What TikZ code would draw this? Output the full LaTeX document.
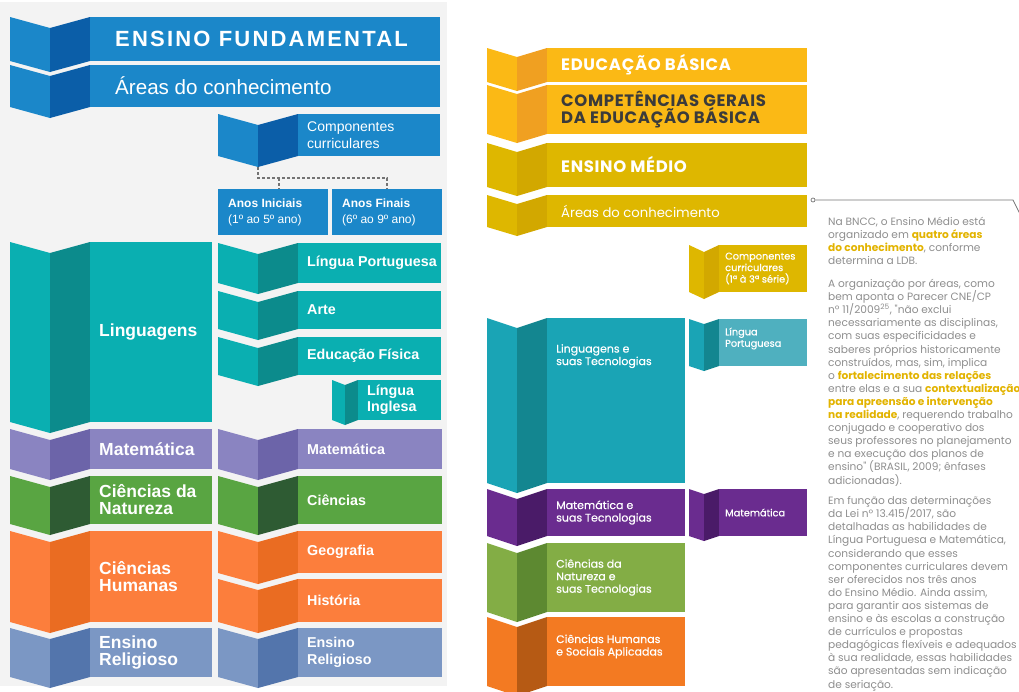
\documentclass[tikz,border=0pt]{standalone}
\usepackage{fontspec}
\setmainfont{Liberation Sans}
\newfontfamily\spacedfont[LetterSpace=10]{Liberation Sans}
\newfontfamily\gothfont{Poppins}
\newfontfamily\gothwide[LetterSpace=4]{Poppins}
\newfontfamily\gothmed[FakeBold=0.5]{Poppins}
\usetikzlibrary{calc, positioning}

% Ensino Fundamental families (main, dark fold, box)
\definecolor{fund}{HTML}{1B87C9}    \definecolor{fundDk}{HTML}{0B5EA8}
\definecolor{lang}{HTML}{0AAFB1}    \definecolor{langDk}{HTML}{0C8B8C}
\definecolor{math}{HTML}{8A84C1}    \definecolor{mathDk}{HTML}{6C64A9}
\definecolor{nat}{HTML}{59A542}     \definecolor{natDk}{HTML}{2E5B33}
\definecolor{hum}{HTML}{FC7E3C}     \definecolor{humDk}{HTML}{EA6C22}
\definecolor{rel}{HTML}{7B97C4}     \definecolor{relDk}{HTML}{5375AC}
% Ensino Medio families
\definecolor{gold}{HTML}{FBB915}    \definecolor{goldDk}{HTML}{F0A021}
\definecolor{mustard}{HTML}{DEB700} \definecolor{mustardDk}{HTML}{D2A800}
\definecolor{tealM}{HTML}{1AA4B5}   \definecolor{tealMDk}{HTML}{138690}
\definecolor{purpM}{HTML}{6A2C8F}   \definecolor{purpMDk}{HTML}{4A1B68}
\definecolor{greenM}{HTML}{83AD45}  \definecolor{greenMDk}{HTML}{5D8931}
\definecolor{orangeM}{HTML}{F37A22} \definecolor{orangeMDk}{HTML}{B65A14}
\colorlet{tealP}{tealM} \colorlet{tealPDk}{tealMDk}
\definecolor{tealPBox}{HTML}{4FB0BF}
\colorlet{fundBox}{fund} \colorlet{langBox}{lang} \colorlet{mathBox}{math}
\colorlet{natBox}{nat} \colorlet{humBox}{hum} \colorlet{relBox}{rel}
\colorlet{goldBox}{gold} \colorlet{mustardBox}{mustard}
\colorlet{tealMBox}{tealM} \colorlet{purpMBox}{purpM}
\colorlet{greenMBox}{greenM} \colorlet{orangeMBox}{orangeM}
\definecolor{panelGray}{HTML}{F3F3F3}
\definecolor{txtGray}{HTML}{8E8E8E}
\definecolor{hlGold}{HTML}{E2B300}
\definecolor{darkTxt}{HTML}{3B3B3B}

\tikzset{
  flat/.style={inner sep=0pt, outer sep=0pt, anchor=north west},
  lbl/.style={inner sep=0pt, anchor=west, align=left, text=white},
  leftcol/.style={lbl, font=\fontsize{17.5}{17}\selectfont\bfseries},
  rightcol/.style={lbl, font=\fontsize{14.3}{16.5}\selectfont\bfseries},
  medtitle/.style={lbl, font=\gothwide\bfseries\fontsize{16.5}{17}\selectfont},
  medarea/.style={lbl, font=\gothmed\fontsize{11}{12.5}\selectfont},
  medsmall/.style={lbl, font=\gothmed\fontsize{9.8}{11.5}\selectfont},
  dashline/.style={draw=black!55, line width=1.1pt, dash pattern=on 3pt off 2pt},
  callout/.style={draw=black!55, line width=0.7pt},
}

% folded banner: name, x0, x1, x2, top, bottom, fold depth, colour family
\newcommand{\foldbar}[8]{%
  \pgfmathsetmacro\fbMid{(#2+#3)/2}%
  \pgfmathsetmacro\fbW{#4-#3}%
  \pgfmathsetmacro\fbH{#6-#5}%
  \fill[#8] (#2,#5) -- (\fbMid,#5+#7) -- (\fbMid,#6+#7) -- (#2,#6) -- cycle;
  \fill[#8Dk] (\fbMid,#5+#7) -- (#3,#5) -- (#3,#6) -- (\fbMid,#6+#7) -- cycle;
  \node[flat, fill=#8Box, minimum width=\fbW, minimum height=\fbH] (#1) at (#3,#5) {};
}
\newcommand{\destaque}[1]{\textcolor{hlGold}{\bfseries #1}}

\begin{document}
\begin{tikzpicture}[x=1pt, y=-1pt]
  \useasboundingbox (0,0) rectangle (1019,691);
  \fill[panelGray] (0,2) rectangle (447,686);

  % ---- Ensino Fundamental ----
  \foldbar{fundTitle}{10}{90}{440}{17}{61}{11}{fund}
  \node[lbl, font=\spacedfont\bfseries\fontsize{22}{24}\selectfont]
    (fundTitleT) at ([xshift=25pt]fundTitle.west) {ENSINO FUNDAMENTAL};
  \foldbar{fundAreas}{10}{90}{440}{65}{107}{11}{fund}
  \node[lbl, font=\fontsize{20.6}{24}\selectfont]
    (fundAreasT) at ([xshift=25pt]fundAreas.west) {Áreas do conhecimento};
  \foldbar{fundComp}{218}{298}{440}{114}{156}{11}{fund}
  \node[lbl, font=\fontsize{14}{17}\selectfont]
    (fundCompT) at ([xshift=9pt]fundComp.west) {Componentes\\curriculares};

  \node[flat, fill=fund, minimum width=110, minimum height=46] (anosIni) at (218,189) {};
  \node[flat, fill=fund, minimum width=110, minimum height=46] (anosFin) at (332,189) {};
  \node[lbl, font=\fontsize{12}{16}\selectfont] (anosIniT)
    at ([xshift=10pt]anosIni.west) {\textbf{Anos Iniciais}\\(1º ao 5º ano)};
  \node[lbl, font=\fontsize{12}{16}\selectfont] (anosFinT)
    at ([xshift=10pt]anosFin.west) {\textbf{Anos Finais}\\(6º ao 9º ano)};

  \coordinate (compTip) at (258,167);
  \coordinate (dashHub) at (258,178);
  \draw[dashline] (compTip) -- (dashHub) -| (anosFin.north);
  \draw[dashline] ([xshift=6pt]anosIni.north |- dashHub) -- ([xshift=6pt]anosIni.north);

  % ---- Areas and components ----
  \foldbar{ling}{10}{90}{212}{242}{422}{11}{lang}
  \node[leftcol] (lingT) at ([xshift=9pt]ling.west) {Linguagens};
  \foldbar{lingLP}{218}{298}{441}{243}{283}{11}{lang}
  \node[rightcol] (lingLPT) at ([xshift=9pt]lingLP.west) {Língua Portuguesa};
  \foldbar{lingArte}{218}{298}{441}{291}{329}{11}{lang}
  \node[rightcol] (lingArteT) at ([xshift=9pt]lingArte.west) {Arte};
  \foldbar{lingEF}{218}{298}{441}{337}{375}{11}{lang}
  \node[rightcol] (lingEFT) at ([xshift=9pt]lingEF.west) {Educação Física};
  \foldbar{lingLI}{332}{358}{441}{380}{420}{5}{lang}
  \node[rightcol] (lingLIT) at ([xshift=9pt]lingLI.west) {Língua\\Inglesa};

  \foldbar{matL}{10}{90}{212}{429}{469}{11}{math}
  \node[leftcol] (matLT) at ([xshift=9pt]matL.west) {Matemática};
  \foldbar{matR}{218}{298}{442}{429}{469}{11}{math}
  \node[rightcol] (matRT) at ([xshift=9pt]matR.west) {Matemática};

  \foldbar{natL}{10}{90}{212}{476}{524}{11}{nat}
  \node[leftcol] (natLT) at ([xshift=9pt]natL.west) {Ciências da\\Natureza};
  \foldbar{natR}{218}{298}{442}{476}{524}{11}{nat}
  \node[rightcol] (natRT) at ([xshift=9pt]natR.west) {Ciências};

  \foldbar{humL}{10}{90}{212}{531}{622}{11}{hum}
  \node[leftcol] (humLT) at ([xshift=9pt]humL.west) {Ciências\\Humanas};
  \foldbar{humGeo}{218}{298}{442}{531}{573}{11}{hum}
  \node[rightcol] (humGeoT) at ([xshift=9pt]humGeo.west) {Geografia};
  \foldbar{humHist}{218}{298}{442}{579}{622}{11}{hum}
  \node[rightcol] (humHistT) at ([xshift=9pt]humHist.west) {História};

  \foldbar{relL}{10}{90}{212}{628}{677}{11}{rel}
  \node[leftcol] (relLT) at ([xshift=9pt]relL.west) {Ensino\\Religioso};
  \foldbar{relR}{218}{298}{442}{628}{677}{11}{rel}
  \node[rightcol] (relRT) at ([xshift=9pt]relR.west) {Ensino\\Religioso};

  % ---- Ensino Medio ----
  \foldbar{eduBas}{487}{547}{807}{48}{82}{9}{gold}
  \node[medtitle] (eduBasT) at ([xshift=14pt]eduBas.west) {EDUCAÇÃO BÁSICA};
  \foldbar{compGer}{487}{547}{807}{85}{134}{9}{gold}
  \node[medtitle, text=darkTxt] (compGerT) at ([xshift=14pt]compGer.west)
    {COMPETÊNCIAS GERAIS\\DA EDUCAÇÃO BÁSICA};
  \foldbar{ensMed}{487}{547}{807}{143}{187}{9}{mustard}
  \node[medtitle] (ensMedT) at ([xshift=14pt]ensMed.west) {ENSINO MÉDIO};
  \foldbar{areasMed}{487}{547}{807}{195}{227}{9}{mustard}
  \node[lbl, font=\gothfont\fontsize{13.2}{16}\selectfont] (areasMedT)
    at ([xshift=14pt]areasMed.west) {Áreas do conhecimento};
  \foldbar{compMed}{689}{719}{807}{245}{292}{7}{mustard}
  \node[medsmall] (compMedT) at ([xshift=6pt]compMed.west)
    {Componentes\\curriculares\\(1ª à 3ª série)};

  \foldbar{lingMed}{487}{547}{685}{318}{483}{10}{tealM}
  \node[medarea, anchor=north west] (lingMedT)
    at ([xshift=9pt, yshift=-26pt]lingMed.north west) {Linguagens e\\suas Tecnologias};
  \foldbar{lpMed}{689}{719}{807}{319}{366}{5}{tealP}
  \node[medsmall] (lpMedT) at ([xshift=6pt, yshift=4pt]lpMed.west) {Língua\\Portuguesa};
  \foldbar{matMed}{487}{547}{685}{489}{536}{10}{purpM}
  \node[medarea] (matMedT) at ([xshift=9pt]matMed.west) {Matemática e\\suas Tecnologias};
  \foldbar{matMedC}{689}{719}{807}{489}{536}{5}{purpM}
  \node[medsmall] (matMedCT) at ([xshift=6pt]matMedC.west) {Matemática};
  \foldbar{natMed}{487}{547}{685}{543}{612}{10}{greenM}
  \node[medarea] (natMedT) at ([xshift=9pt]natMed.west)
    {Ciências da\\Natureza e\\suas Tecnologias};
  \foldbar{humMed}{487}{547}{685}{617}{686}{10}{orangeM}
  \node[medarea] (humMedT) at ([xshift=9pt, yshift=5pt]humMed.west)
    {Ciências Humanas\\e Sociais Aplicadas};

  % ---- Callout text ----
  \node[circle, callout, minimum size=4pt, inner sep=0pt] (calloutDot) at (813,200) {};
  \coordinate (calloutBend) at (1013,200);
  \coordinate (calloutEnd) at (1021,216);
  \draw[callout] (calloutDot.east) -- (calloutBend) -- (calloutEnd);

  \node[anchor=north west, inner sep=0pt, align=left, text=txtGray,
        font=\gothfont\fontsize{10.6}{13.1}\selectfont] (bnccText) at (828,217)
    {Na BNCC, o Ensino Médio está\\
     organizado em \destaque{quatro áreas}\\
     \destaque{do conhecimento}, conforme\\
     determina a LDB.\\[9.6pt]
     A organização por áreas, como\\
     bem aponta o Parecer CNE/CP\\
     nº 11/2009\textsuperscript{25}, "não exclui\\
     necessariamente as disciplinas,\\
     com suas especificidades e\\
     saberes próprios historicamente\\
     construídos, mas, sim, implica\\
     o \destaque{fortalecimento das relações}\\
     entre elas e a sua \destaque{contextualização}\\
     \destaque{para apreensão e intervenção}\\
     \destaque{na realidade}, requerendo trabalho\\
     conjugado e cooperativo dos\\
     seus professores no planejamento\\
     e na execução dos planos de\\
     ensino" (BRASIL, 2009; ênfases\\
     adicionadas).\\[7.5pt]
     Em função das determinações\\
     da Lei nº 13.415/2017, são\\
     detalhadas as habilidades de\\
     Língua Portuguesa e Matemática,\\
     considerando que esses\\
     componentes curriculares devem\\
     ser oferecidos nos três anos\\
     do Ensino Médio. Ainda assim,\\
     para garantir aos sistemas de\\
     ensino e às escolas a construção\\
     de currículos e propostas\\
     pedagógicas flexíveis e adequados\\
     à sua realidade, essas habilidades\\
     são apresentadas sem indicação\\
     de seriação.};
\end{tikzpicture}
\end{document}
